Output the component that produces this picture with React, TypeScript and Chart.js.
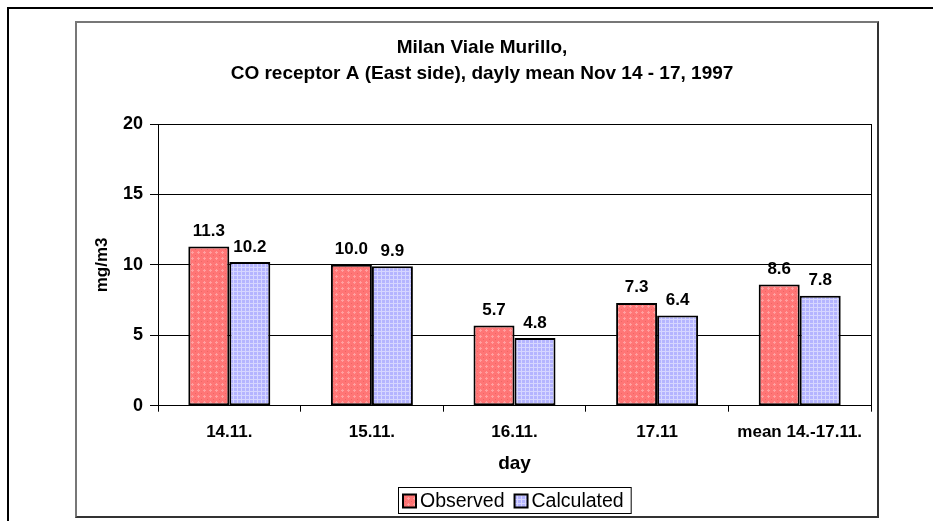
import React, { useEffect, useRef } from "react";
import { Chart, registerables } from "chart.js";

Chart.register(...registerables);

const categories = ["14.11.", "15.11.", "16.11.", "17.11", "mean 14.-17.11."];
const observed = [11.3, 10.0, 5.7, 7.3, 8.6];
const calculated = [10.2, 9.9, 4.8, 6.4, 7.8];
const yTicks = [0, 5, 10, 15, 20];
const seriesNames = ["Observed", "Calculated"];
const titleLines = [
  "Milan Viale Murillo,",
  "CO receptor A (East side), dayly mean Nov 14 - 17, 1997",
];
const xTitle = "day";
const yTitle = "mg/m3";

const FONT = "'Liberation Sans', Arial, Helvetica, sans-serif";

function makePattern(kind: "red" | "blue"): CanvasPattern | string {
  const c = document.createElement("canvas");
  const ctx = c.getContext("2d");
  if (!ctx) return kind === "red" ? "#ff8080" : "#c0c0ff";
  if (kind === "red") {
    c.width = 6;
    c.height = 6;
    ctx.fillStyle = "rgb(255,118,118)";
    ctx.fillRect(0, 0, 6, 6);
    ctx.fillStyle = "rgb(255,160,160)";
    ctx.fillRect(1, 0, 1, 3);
    ctx.fillRect(0, 1, 3, 1);
    ctx.fillStyle = "rgb(240,100,100)";
    ctx.fillRect(4, 4, 1, 1);
  } else {
    c.width = 4;
    c.height = 4;
    ctx.fillStyle = "rgb(180,180,255)";
    ctx.fillRect(0, 0, 4, 4);
    ctx.fillStyle = "rgb(214,214,255)";
    ctx.fillRect(0, 0, 4, 1);
    ctx.fillRect(0, 0, 1, 4);
  }
  const p = ctx.createPattern(c, "repeat");
  return p || (kind === "red" ? "#ff8080" : "#c0c0ff");
}

const valueLabels = {
  id: "valueLabels",
  afterDatasetsDraw(chart: any) {
    const ctx = chart.ctx;
    ctx.save();
    ctx.font = `bold 17px ${FONT}`;
    ctx.fillStyle = "#000";
    ctx.textAlign = "center";
    ctx.textBaseline = "alphabetic";
    chart.data.datasets.forEach((ds: any, i: number) => {
      const meta = chart.getDatasetMeta(i);
      meta.data.forEach((el: any, j: number) => {
        ctx.fillText(Number(ds.data[j]).toFixed(1), el.x, el.y - 10.5);
      });
    });
    ctx.restore();
  },
};

const plotFrame = {
  id: "plotFrame",
  beforeDatasetsDraw(chart: any) {
    const { ctx, chartArea } = chart;
    ctx.save();
    ctx.strokeStyle = "#000";
    ctx.lineWidth = 1;
    ctx.beginPath();
    const x = Math.round(chartArea.right) + 0.5;
    ctx.moveTo(x, chartArea.top);
    ctx.lineTo(x, chartArea.bottom);
    ctx.stroke();
    ctx.restore();
  },
};

const boxedLegend = {
  id: "boxedLegend",
  afterDraw(chart: any) {
    const { ctx, chartArea } = chart;
    const xs = chart.scales.x;
    ctx.save();
    ctx.font = `19.5px ${FONT}`;
    const sw = 13;
    const gap = 4;
    const between = 10;
    const padL = 5;
    const padR = 7;
    const items = chart.data.datasets.map((ds: any) => ({
      label: ds.label,
      fill: ds.backgroundColor,
      w: ctx.measureText(ds.label).width,
    }));
    let total = padL + padR;
    items.forEach((it: any, i: number) => {
      total += sw + gap + it.w + (i > 0 ? between : 0);
    });
    const h = 26;
    const x0 = Math.round((chartArea.left + chartArea.right) / 2 - total / 2);
    const y0 = Math.round(xs.bottom + 9.6);
    ctx.strokeStyle = "#000";
    ctx.lineWidth = 1;
    ctx.strokeRect(x0 + 0.5, y0 + 0.5, total, h);
    let x = x0 + padL;
    const cy = y0 + h / 2 + 1;
    items.forEach((it: any, i: number) => {
      if (i > 0) x += between;
      ctx.fillStyle = it.fill;
      ctx.fillRect(x, cy - sw / 2, sw, sw);
      ctx.lineWidth = 2;
      ctx.strokeStyle = "#000";
      ctx.strokeRect(x, cy - sw / 2, sw, sw);
      x += sw + gap;
      ctx.fillStyle = "#000";
      ctx.textAlign = "left";
      ctx.textBaseline = "middle";
      ctx.fillText(it.label, x, cy + 0.5);
      x += it.w;
    });
    ctx.restore();
  },
};

export default function App() {
  const ref = useRef<HTMLCanvasElement | null>(null);

  useEffect(() => {
    const canvas = ref.current;
    if (!canvas) return;
    const red = makePattern("red");
    const blue = makePattern("blue");
    const chart = new Chart(canvas, {
      type: "bar",
      data: {
        labels: categories,
        datasets: [
          {
            label: seriesNames[0],
            data: observed,
            backgroundColor: red as any,
            borderColor: "#000",
            borderWidth: 2,
            borderSkipped: false,
            barPercentage: 1,
            categoryPercentage: 0.575,
          },
          {
            label: seriesNames[1],
            data: calculated,
            backgroundColor: blue as any,
            borderColor: "#000",
            borderWidth: 2,
            borderSkipped: false,
            barPercentage: 1,
            categoryPercentage: 0.575,
          },
        ],
      },
      options: {
        responsive: false,
        maintainAspectRatio: false,
        animation: false,
        devicePixelRatio: 1,
        layout: { padding: { left: 16, right: 6, top: 0, bottom: 38.3 } },
        plugins: {
          legend: { display: false },
          tooltip: { enabled: false },
          title: {
            display: true,
            text: titleLines,
            color: "#000",
            font: { family: FONT, size: 19, weight: "bold", lineHeight: 26 / 19 },
            padding: { top: 12, bottom: 37 },
          },
        },
        scales: {
          x: {
            grid: {
              display: true,
              drawOnChartArea: false,
              drawTicks: true,
              tickLength: 6,
              color: "#000",
              offset: true,
            },
            border: { display: true, color: "#000", width: 1 },
            ticks: {
              color: "#000",
              font: { family: FONT, size: 17, weight: "bold", lineHeight: 1 },
              padding: 12.5,
              maxRotation: 0,
              minRotation: 0,
              autoSkip: false,
            },
            title: {
              display: true,
              text: xTitle,
              color: "#000",
              font: { family: FONT, size: 19, weight: "bold", lineHeight: 1 },
              padding: { top: 0, bottom: 4 },
            },
            afterFit: (s: any) => {
              s.height = 72;
            },
          },
          y: {
            min: 0,
            max: 20,
            afterBuildTicks: (s: any) => {
              s.ticks = yTicks.map((v) => ({ value: v }));
            },
            ticks: {
              color: "#000",
              font: { family: FONT, size: 18, weight: "bold", lineHeight: 1 },
              padding: 7,
            },
            grid: { color: "#000", lineWidth: 1, tickLength: 8, drawTicks: true },
            border: { display: true, color: "#000", width: 1 },
            title: {
              display: true,
              text: yTitle,
              color: "#000",
              font: { family: FONT, size: 17, weight: "bold", lineHeight: 1 },
              padding: { top: 0.5, bottom: 0 },
            },
            afterFit: (s: any) => {
              s.width = 65;
            },
          },
        },
      } as any,
      plugins: [valueLabels, plotFrame, boxedLegend],
    });
    return () => chart.destroy();
  }, []);

  return (
    <div
      style={{
        position: "absolute",
        left: 0,
        top: 0,
        width: 933,
        height: 521,
        overflow: "hidden",
        background: "#fff",
      }}
    >
      <div
        style={{
          position: "absolute",
          left: 7,
          top: 7,
          width: 1000,
          height: 1000,
          borderTop: "2px solid #000",
          borderLeft: "2px solid #000",
        }}
      />
      <div
        style={{
          position: "absolute",
          left: 75,
          top: 21,
          width: 800,
          height: 493,
          borderTop: "2px solid #777",
          borderLeft: "2px solid #777",
          borderRight: "2px solid #333",
          borderBottom: "2px solid #333",
          background: "#fff",
        }}
      >
        <canvas
          ref={ref}
          width={800}
          height={493}
          style={{ display: "block", width: 800, height: 493 }}
        />
      </div>
    </div>
  );
}
